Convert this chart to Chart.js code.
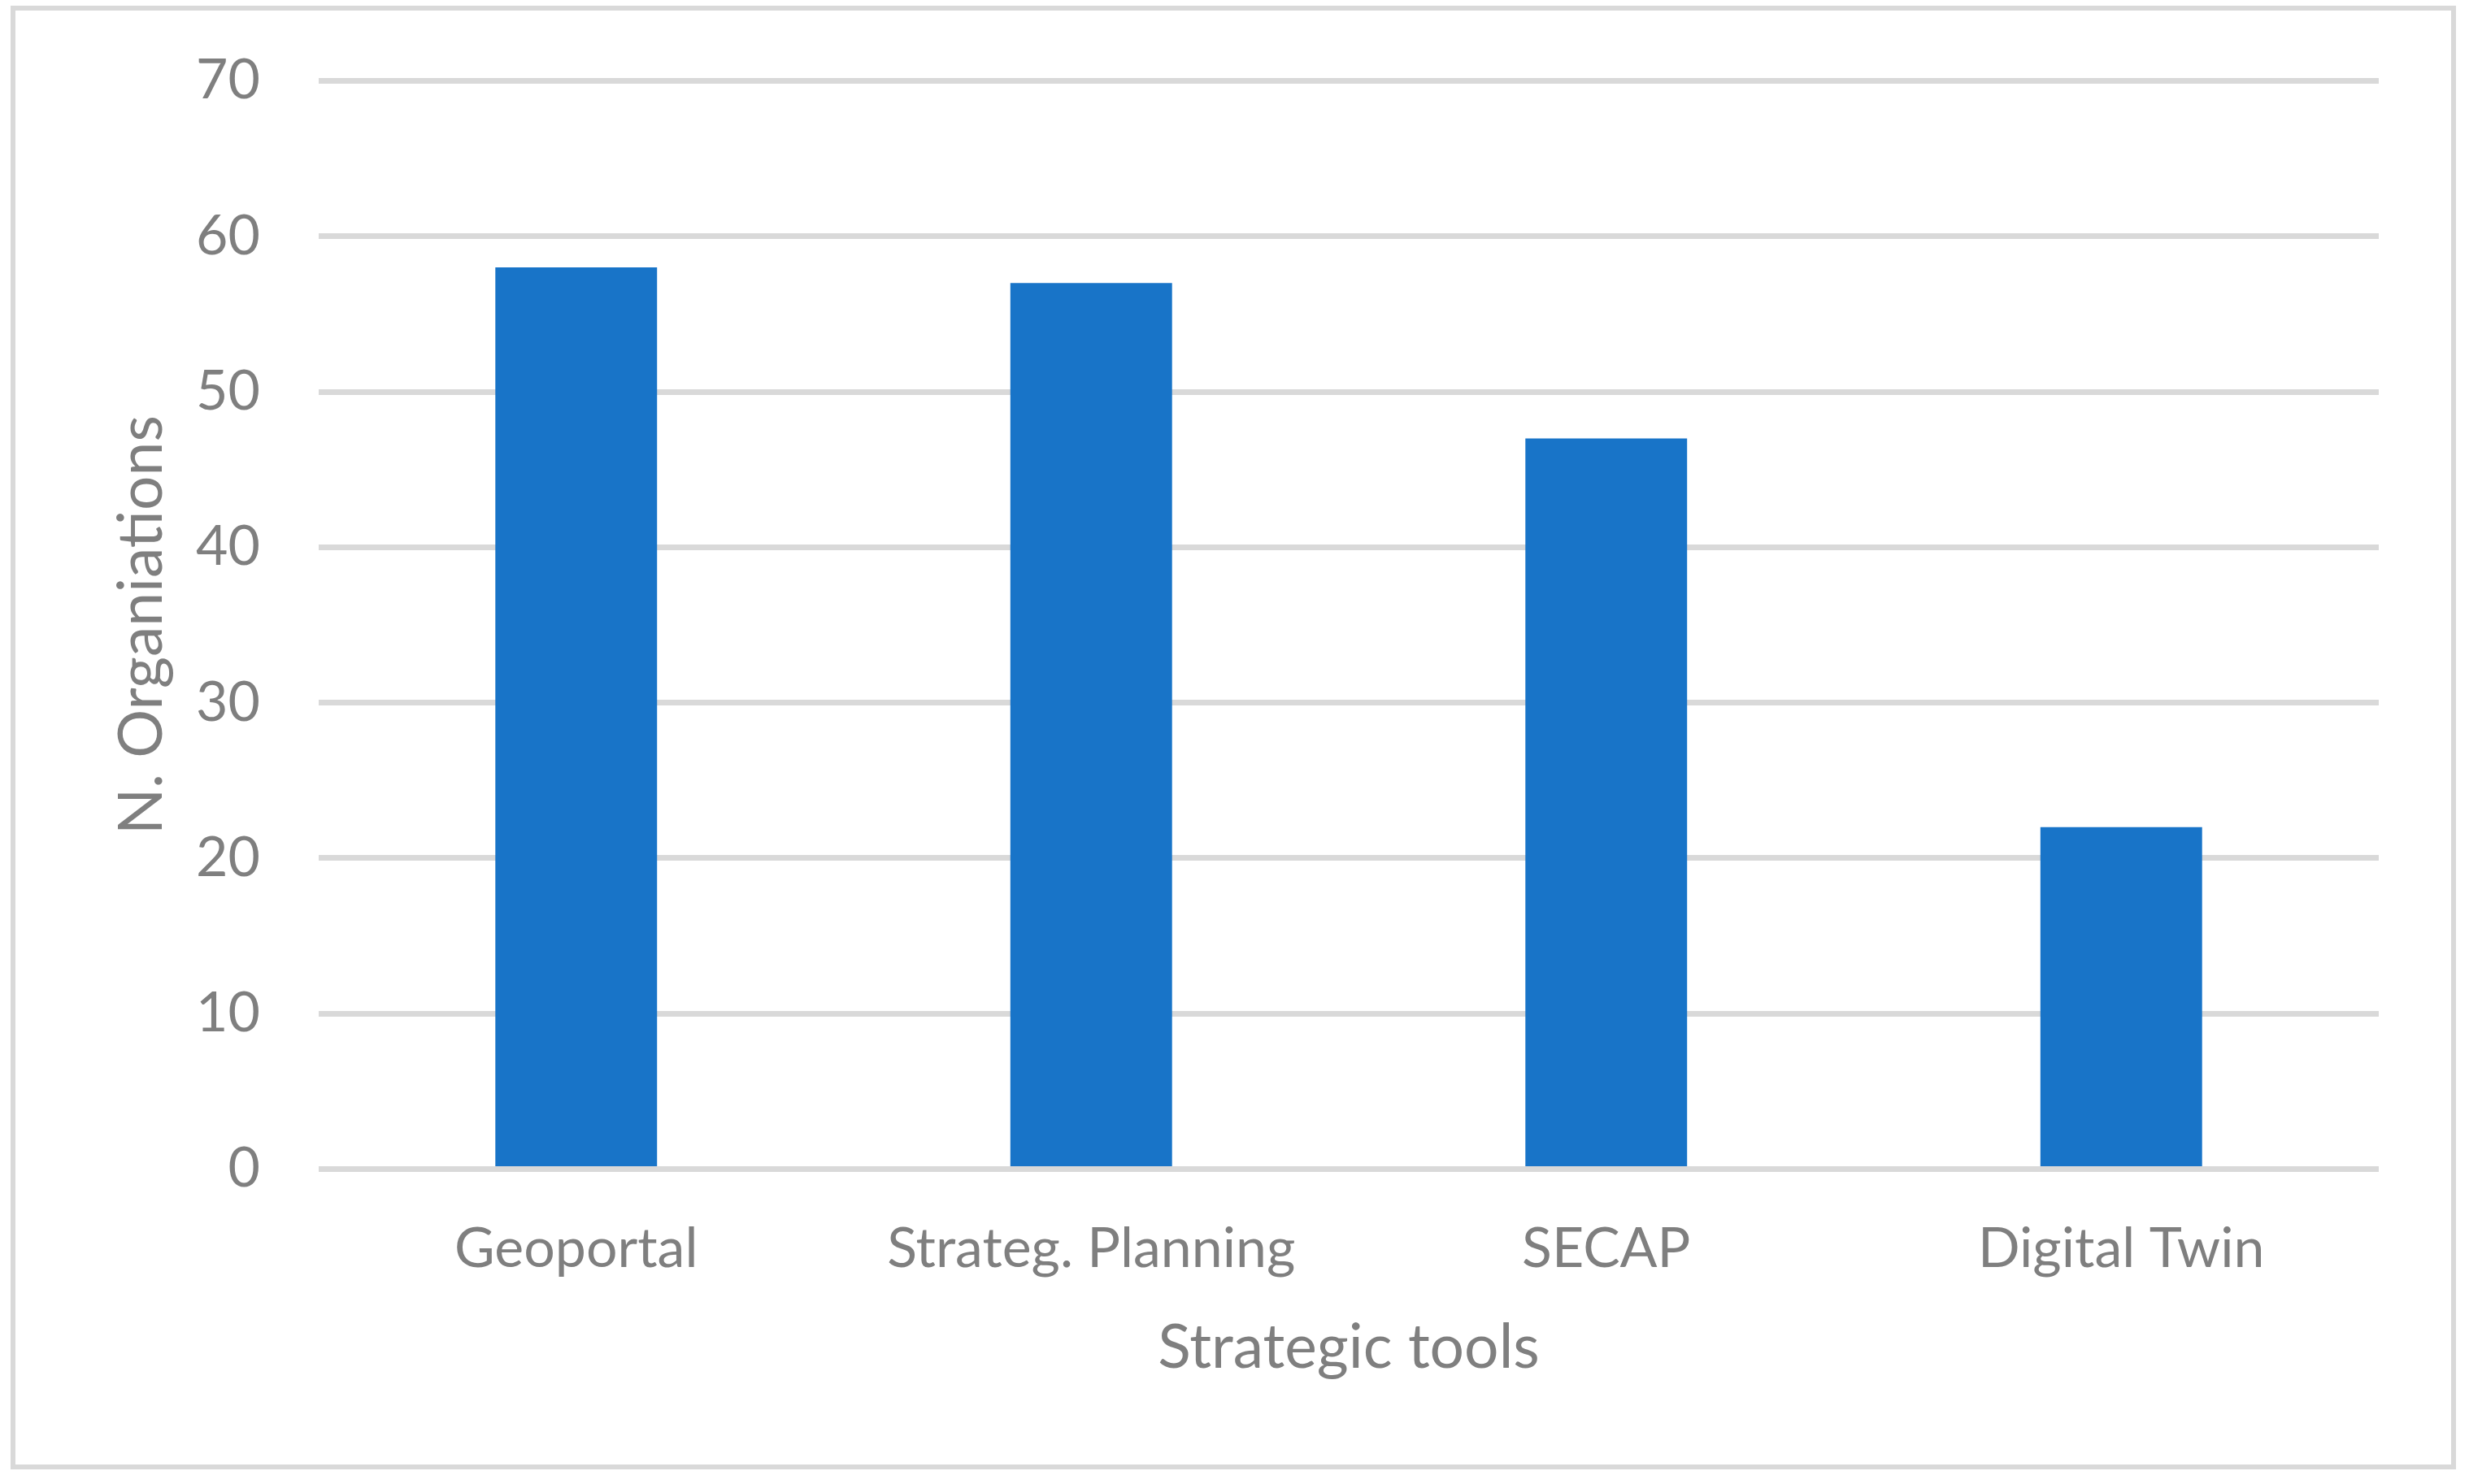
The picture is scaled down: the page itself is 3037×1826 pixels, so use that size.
<!DOCTYPE html>
<html>
<head>
<meta charset="utf-8">
<script src="https://cdn.jsdelivr.net/npm/chart.js@4.4.0/dist/chart.umd.min.js"></script>
<style>
  html, body { margin: 0; padding: 0; background: #ffffff; }
  #wrap { position: relative; width: 3037px; height: 1826px; }
  #frame {
    position: absolute; left: 13px; top: 7px; width: 3008px; height: 1801px;
    box-sizing: border-box; border: 6px solid #d9d9d9; pointer-events: none;
  }
  canvas { position: absolute; left: 0; top: 0; }
</style>
</head>
<body>
<div id="wrap">
  <canvas id="chart" width="3037" height="1826"></canvas>
  <div id="frame"></div>
</div>
<script>
const categories = ["Geoportal", "Strateg. Planning", "SECAP", "Digital Twin"];
const organisations = [58, 57, 47, 22];
const yTicks = [0, 10, 20, 30, 40, 50, 60, 70];

const grey = "#7f7f7f";
const ctx = document.getElementById("chart").getContext("2d");

new Chart(ctx, {
    type: "bar",
    data: {
        labels: categories,
        datasets: [
            {
                label: "N. Organiations",
                data: organisations,
                backgroundColor: "#1874c8",
                borderWidth: 0,
                barPercentage: 0.314,
                categoryPercentage: 1
            }
        ]
    },
    options: {
        responsive: false,
        animation: false,
        layout: {
            padding: { left: 0, top: 99.5, right: 111, bottom: 122 }
        },
        plugins: {
            legend: { display: false },
            tooltip: { enabled: false }
        },
        scales: {
            x: {
                grid: { display: false, drawTicks: false },
                border: { display: false },
                ticks: {
                    color: grey,
                    padding: 58,
                    font: { family: "Lato", size: 68 }
                },
                title: {
                    display: true,
                    text: "Strategic tools",
                    color: grey,
                    font: { family: "Lato", size: 75 },
                    padding: { top: 22, bottom: 0 }
                },
                afterFit: (scale) => {
                    scale.height = 265.5;
                    scale.paddingLeft = 0;
                    scale.paddingRight = 0;
                }
            },
            y: {
                min: 0,
                max: 70,
                afterBuildTicks: (scale) => {
                    scale.ticks = yTicks.map((v) => ({ value: v }));
                },
                grid: {
                    color: "#d9d9d9",
                    lineWidth: 7,
                    drawTicks: false
                },
                border: { display: false },
                ticks: {
                    color: grey,
                    padding: 72,
                    font: { family: "Lato", size: 68 }
                },
                title: {
                    display: true,
                    text: "N. Organiations",
                    color: grey,
                    font: { family: "Lato", size: 75 },
                    padding: { top: 130, bottom: 0 }
                },
                afterFit: (scale) => {
                    scale.width = 392;
                    scale.paddingTop = 0;
                    scale.paddingBottom = 0;
                }
            }
        }
    }
});
</script>
</body>
</html>
